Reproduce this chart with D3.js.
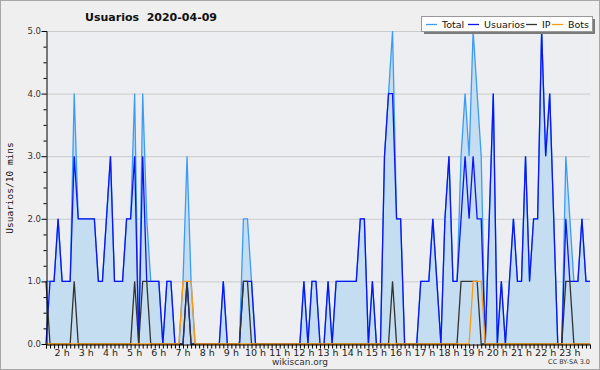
<!DOCTYPE html>
<html lang="es">
<head>
<meta charset="UTF-8">
<title>Usuarios 2020-04-09</title>
<script src="https://d3js.org/d3.v7.min.js" charset="utf-8"></script>
<style>
    body { margin: 0; background: #fff; }
    svg { display: block; }
</style>
</head>
<body>
<script>

    // datos: un valor cada 10 minutos, primer punto a la 1:20
    var inicio = 80;     // minutos
    var paso = 10;

    var usuarios = [
        0,1,1,2,1,1,1,3,2,2,
        2,2,2,1,1,2,3,1,1,1,
        2,2,3,0,3,1,1,1,1,0,
        1,1,0,0,0,1,0,0,0,0,
        0,0,0,0,1,0,0,0,0,1,
        1,1,0,0,0,0,0,0,0,0,
        0,0,0,0,1,0,1,1,0,0,
        1,0,1,1,1,1,1,1,2,2,
        0,1,0,0,3,4,4,2,2,0,
        0,0,0,1,1,1,2,1,0,2,
        3,1,1,2,3,2,3,2,2,0,
        2,4,0,1,0,1,2,1,1,3,
        1,2,2,5,3,4,2,0,0,2,
        1,1,1,2,1,1
    ];

    var ip = [
        1,0,0,0,0,0,0,1,0,0,
        0,0,0,0,0,0,0,0,0,0,
        0,0,1,0,1,1,0,0,0,0,
        0,0,0,0,0,1,0,0,0,0,
        0,0,0,0,0,0,0,0,0,1,
        1,0,0,0,0,0,0,0,0,0,
        0,0,0,0,0,0,0,0,0,0,
        0,0,0,0,0,0,0,0,0,0,
        0,0,0,0,0,0,1,0,0,0,
        0,0,0,0,0,0,0,0,0,0,
        0,0,0,1,1,1,1,1,0,0,
        0,0,0,0,0,0,0,0,0,0,
        0,0,0,0,0,0,0,0,0,1,
        1,0,0,0,0,0
    ];

    var bots = [
        0,0,0,0,0,0,0,0,0,0,
        0,0,0,0,0,0,0,0,0,0,
        0,0,0,0,0,0,0,0,0,0,
        0,0,0,0,1,1,1,0,0,0,
        0,0,0,0,0,0,0,0,0,0,
        0,0,0,0,0,0,0,0,0,0,
        0,0,0,0,0,0,0,0,0,0,
        0,0,0,0,0,0,0,0,0,0,
        0,0,0,0,0,0,0,0,0,0,
        0,0,0,0,0,0,0,0,0,0,
        0,0,0,0,0,0,1,1,1,0,
        0,0,0,0,0,0,0,0,0,0,
        0,0,0,0,0,0,0,0,0,0,
        0,0,0,0,0,0
    ];

    var total = [
        1,1,1,2,1,1,1,4,2,2,
        2,2,2,1,1,2,3,1,1,1,
        2,2,4,0,4,2,1,1,1,0,
        1,1,0,0,1,3,1,0,0,0,
        0,0,0,0,1,0,0,0,0,2,
        2,1,0,0,0,0,0,0,0,0,
        0,0,0,0,1,0,1,1,0,0,
        1,0,1,1,1,1,1,1,2,2,
        0,1,0,0,3,4,5,2,2,0,
        0,0,0,1,1,1,2,1,0,2,
        3,1,1,3,4,3,5,4,3,0,
        2,4,0,1,0,1,2,1,1,3,
        1,2,2,5,3,4,2,0,0,3,
        2,1,1,2,1,1
    ];

    var horas = [2,3,4,5,6,7,8,9,10,11,12,13,14,15,16,17,18,19,20,21,22,23];
    var yMarcas = [0,1,2,3,4,5];
    var nombres = ["Total", "Usuarios", "IP", "Bots"];
    var colores = ["#3c9cf5", "#0a14f5", "#333333", "#ff9a10"];

    // lienzo
    var width = 600;
    var height = 370;
    var svg = d3.select("body")
        .append("svg")
        .attr("width", width)
        .attr("height", height)
        .style("font-family", "'DejaVu Sans', sans-serif");

    svg.append("rect")
        .attr("x", 0.5).attr("y", 0.5)
        .attr("width", width - 1).attr("height", height - 1)
        .style("fill", "#efefef")
        .style("stroke", "#a8a8a8");

    // margenes del area de trazado
    var mIzq = 46, mDer = 590, mSup = 31, mInf = 344;

    svg.append("rect")
        .attr("x", mIzq).attr("y", mSup)
        .attr("width", mDer - mIzq).attr("height", mInf - mSup)
        .style("fill", "#edeef1");

    var n = total.length;
    var x = d3.scaleLinear()
        .domain([inicio, inicio + paso * (n - 1)])
        .range([mIzq, mDer]);
    var y = d3.scaleLinear()
        .domain([0, 5])
        .range([mInf, mSup]);

    function tiempo(i) {
        return inicio + paso * i;
    }

    // rejilla horizontal
    svg.append("g")
        .selectAll("line")
        .data(yMarcas.slice(1))
        .enter()
        .append("line")
        .attr("x1", mIzq).attr("x2", mDer)
        .attr("y1", function (d) { return y(d) + 0.5; })
        .attr("y2", function (d) { return y(d) + 0.5; })
        .style("stroke", "#cbcbcb")
        .style("stroke-width", 1);

    // area del total
    var area = d3.area()
        .x(function (d, i) { return x(tiempo(i)); })
        .y0(y(0))
        .y1(function (d) { return y(d); });

    svg.append("path")
        .datum(total)
        .attr("d", area)
        .style("fill", "#c5ddf0");

    var linea = d3.line()
        .x(function (d, i) { return x(tiempo(i)); })
        .y(function (d) { return y(d); });

    var datos = [total, usuarios, ip, bots];
    for (var s = 0; s < datos.length; s++) {
        svg.append("path")
            .datum(datos[s])
            .attr("d", linea)
            .style("fill", "none")
            .style("stroke", colores[s])
            .style("stroke-width", 1.3)
            .style("stroke-linejoin", "miter");
    }

    // eje y
    var ejeY = d3.axisLeft(y)
        .tickValues(d3.range(0, 5.01, 0.25))
        .tickSize(3)
        .tickFormat("");
    var gy = svg.append("g")
        .attr("transform", "translate(" + (mIzq + 0.5) + ",0)")
        .call(ejeY);
    gy.selectAll(".tick line")
        .attr("x2", function (d) { return d % 1 === 0 ? -5 : -3; });

    svg.append("g")
        .selectAll("text")
        .data(yMarcas)
        .enter()
        .append("text")
        .attr("x", mIzq - 5)
        .attr("y", function (d) { return y(d) + 3; })
        .attr("text-anchor", "end")
        .style("font-size", "8.5px")
        .style("fill", "#333")
        .text(function (d) { return d.toFixed(1); });

    // eje x
    var ejeX = d3.axisBottom(x)
        .tickValues(d3.range(n).map(tiempo))
        .tickSize(4)
        .tickFormat("");
    svg.append("g")
        .attr("transform", "translate(0," + (mInf + 0.5) + ")")
        .call(ejeX);

    svg.selectAll(".domain")
        .style("stroke", "#000");

    svg.append("g")
        .selectAll("text")
        .data(horas)
        .enter()
        .append("text")
        .attr("x", function (d) { return x(d * 60); })
        .attr("y", 356)
        .attr("text-anchor", "middle")
        .style("font-size", "9.5px")
        .style("fill", "#222")
        .text(function (d) { return d + " h"; });

    // titulo
    svg.append("text")
        .attr("x", 151).attr("y", 21)
        .attr("text-anchor", "middle")
        .style("font-size", "11px")
        .style("font-weight", "bold")
        .style("fill", "#111")
        .style("white-space", "pre")
        .text("Usuarios  2020-04-09");

    // titulo eje y
    svg.append("text")
        .attr("transform", "translate(13,188) rotate(-90)")
        .attr("text-anchor", "middle")
        .style("font-family", "'DejaVu Sans Mono', monospace")
        .style("font-size", "9.5px")
        .style("fill", "#111")
        .text("Usuarios/10 mins");

    svg.append("text")
        .attr("x", 300).attr("y", 365)
        .attr("text-anchor", "middle")
        .style("font-size", "9px")
        .style("fill", "#333")
        .text("wikiscan.org");

    svg.append("text")
        .attr("x", 590).attr("y", 364)
        .attr("text-anchor", "end")
        .style("font-size", "6.5px")
        .style("fill", "#333")
        .text("CC BY-SA 3.0");

    // leyenda con sombra
    var leyenda = svg.append("g");
    leyenda.append("rect")
        .attr("x", 424).attr("y", 19)
        .attr("width", 171).attr("height", 15)
        .style("fill", "#7a7a7a");
    leyenda.append("rect")
        .attr("x", 421.5).attr("y", 16.5)
        .attr("width", 171).attr("height", 15)
        .style("fill", "#fff")
        .style("stroke", "#999");

    var posLeyenda = [426, 468, 526, 552];
    var item = leyenda.selectAll("g.item")
        .data(nombres)
        .enter()
        .append("g")
        .attr("class", "item")
        .attr("transform", function (d, i) { return "translate(" + posLeyenda[i] + ",0)"; });
    item.append("line")
        .attr("x1", 0).attr("x2", 11)
        .attr("y1", 24.5).attr("y2", 24.5)
        .style("stroke", function (d, i) { return colores[i]; })
        .style("stroke-width", 1.3);
    item.append("text")
        .attr("x", 16).attr("y", 28)
        .style("font-size", "9.5px")
        .style("fill", "#111")
        .text(function (d) { return d; });

</script>
</body>
</html>
